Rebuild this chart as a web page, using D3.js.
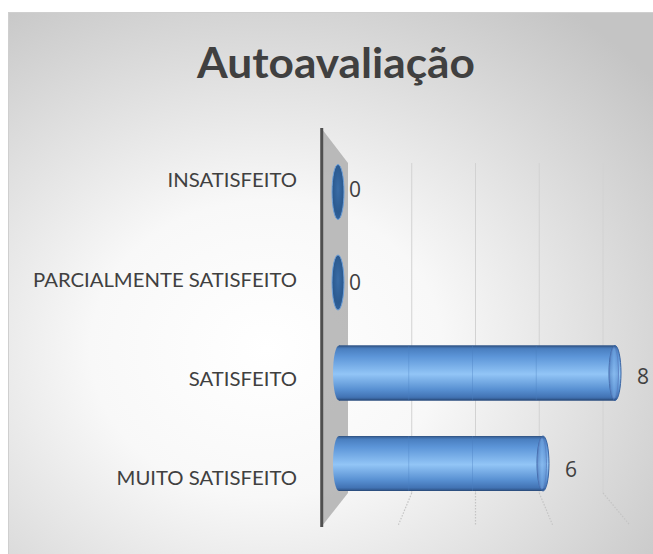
<!DOCTYPE html>
<html><head><meta charset="utf-8">
<script src="https://cdn.jsdelivr.net/npm/d3@7"></script>
<style>html,body{margin:0;padding:0;background:#fff;}svg{display:block;}</style>
</head><body>
<script>
const categories = ["INSATISFEITO", "PARCIALMENTE SATISFEITO", "SATISFEITO", "MUITO SATISFEITO"];
const values = [0, 0, 8, 6];
const gridTicks = [2, 4, 6, 8];
const title = "Autoavaliação";

const W = 653, H = 554;
const svg = d3.select("body").append("svg").attr("width", W).attr("height", H);
const defs = svg.append("defs");

const bg = defs.append("radialGradient").attr("id","bg").attr("cx","40%").attr("cy","62%").attr("r","78%");
bg.append("stop").attr("offset","0%").attr("stop-color","#ffffff");
bg.append("stop").attr("offset","35%").attr("stop-color","#f8f8f8");
bg.append("stop").attr("offset","100%").attr("stop-color","#c4c4c4");

const cyl = defs.append("linearGradient").attr("id","cyl").attr("x1",0).attr("y1",0).attr("x2",0).attr("y2",1);
[[0,"#33598c"],[0.06,"#4a7fc0"],[0.2,"#5c95d8"],[0.52,"#92c5f6"],[0.8,"#5890d2"],[0.94,"#4273b4"],[1,"#2c4f80"]]
  .forEach(([o,c])=>cyl.append("stop").attr("offset",o).attr("stop-color",c));
const cap = defs.append("linearGradient").attr("id","cap").attr("x1",0).attr("y1",0).attr("x2",1).attr("y2",0);
[[0,"#4a78b8"],[0.5,"#7fb2ea"],[1,"#5a8ccc"]].forEach(([o,c])=>cap.append("stop").attr("offset",o).attr("stop-color",c));
const zero = defs.append("radialGradient").attr("id","zero").attr("cx","50%").attr("cy","45%").attr("r","60%");
[[0,"#3a6ca6"],[0.7,"#2b5a90"],[1,"#35659e"]].forEach(([o,c])=>zero.append("stop").attr("offset",o).attr("stop-color",c));

// background box
svg.append("rect").attr("x",8.5).attr("y",12.5).attr("width",W-8).attr("height",H-12)
  .attr("fill","url(#bg)").attr("stroke","#cfcfcf").attr("stroke-width",1);

const FONT = "Lato, 'Open Sans', sans-serif";

// title
const t = svg.append("text").attr("x",336).attr("y",78).attr("text-anchor","middle")
  .attr("font-family",FONT).attr("font-weight","bold").attr("font-size",42)
  .attr("fill","#404040").text(title);
const tw = t.node().getComputedTextLength();
if (Math.abs(tw-278) > 2) t.attr("textLength",278).attr("lengthAdjust","spacingAndGlyphs");

// scales
const xGrid = d3.scaleLinear().domain([0,8]).range([348,603]);
const xFront = d3.scaleLinear().domain([0,8]).range([333,621]);
const yFront = d3.scalePoint().domain(categories).range([192,463.5]);
const yLabel = d3.scalePoint().domain(categories).range([180.5,478.5]);
const yValue = d3.scalePoint().domain(categories).range([197,477]);
const gridTop = 163, floorY = 493, floorBottom = 525;
const vanish = xGrid(4), slant = 0.21;

// gridlines
const g = svg.append("g");
gridTicks.forEach(v=>{
  const x = xGrid(v);
  g.append("line").attr("x1",x).attr("x2",x).attr("y1",gridTop).attr("y2",floorY)
    .attr("stroke","#d2d2d2").attr("stroke-width",1);
  g.append("line").attr("x1",x).attr("x2",x+(x-vanish)*slant).attr("y1",floorY).attr("y2",floorBottom)
    .attr("stroke","#c4c4c4").attr("stroke-width",1.2).attr("stroke-dasharray","1.5,1.5");
});

// back wall (side)
const wx = xGrid(0), wl = wx + (wx-vanish)*slant;
svg.append("path").attr("d",`M${wl},128 L${wx},${gridTop} L${wx},${floorY} L${wl},527 Z`)
  .attr("fill","#ababab").attr("fill-opacity",0.8);
svg.append("line").attr("x1",wl+0.5).attr("x2",wl+0.5).attr("y1",128).attr("y2",527)
  .attr("stroke","#4f4f4f").attr("stroke-width",3);

// category labels
const lab = svg.append("g").attr("font-family",FONT).attr("font-size",18.5).attr("fill","#404040");
const labs = lab.selectAll("text").data(categories).join("text")
  .attr("x",297).attr("y",d=>yLabel(d)+6.7).attr("text-anchor","end").text(d=>d);
let maxW = 0; labs.each(function(){ maxW = Math.max(maxW, this.getComputedTextLength()); });
const f = 264/maxW;
labs.each(function(){ const w=this.getComputedTextLength(); d3.select(this).attr("textLength",w*f).attr("lengthAdjust","spacingAndGlyphs"); });

// bars
const rx = 6, bh = 55;
const data = categories.map((c,i)=>({c, v: values[i]}));
const bars = svg.append("g");
data.forEach(d=>{
  const cy = yFront(d.c);
  if (d.v === 0) {
    bars.append("ellipse").attr("cx",xFront(0)+rx-1).attr("cy",cy).attr("rx",rx).attr("ry",bh/2)
      .attr("fill","url(#zero)").attr("stroke","#6d9fd8").attr("stroke-width",1);
  } else {
    const x0 = xFront(0)+rx, x1 = xFront(d.v)-rx;
    const grp = bars.append("g");
    grp.append("ellipse").attr("cx",x0).attr("cy",cy).attr("rx",rx).attr("ry",bh/2).attr("fill","url(#cyl)");
    grp.append("rect").attr("x",x0).attr("y",cy-bh/2).attr("width",x1-x0).attr("height",bh).attr("fill","url(#cyl)");
    grp.append("line").attr("x1",x0).attr("x2",x1).attr("y1",cy-bh/2+0.5).attr("y2",cy-bh/2+0.5).attr("stroke","#34598a").attr("stroke-width",1);
    grp.append("line").attr("x1",x0).attr("x2",x1).attr("y1",cy+bh/2-0.5).attr("y2",cy+bh/2-0.5).attr("stroke","#2c4f80").attr("stroke-width",1);
    gridTicks.filter(v=>v<d.v).forEach(v=>{
      grp.append("line").attr("x1",xGrid(v)-3).attr("x2",xGrid(v)-3).attr("y1",cy-bh/2).attr("y2",cy+bh/2)
        .attr("stroke","#4a7fbf").attr("stroke-opacity",0.35).attr("stroke-width",1);
    });
    grp.append("ellipse").attr("cx",x1).attr("cy",cy).attr("rx",rx).attr("ry",bh/2)
      .attr("fill","url(#cyl)").attr("stroke","#3c66a4").attr("stroke-width",1);
    grp.append("ellipse").attr("cx",x1-1).attr("cy",cy).attr("rx",rx-1.5).attr("ry",bh/2-2)
      .attr("fill","url(#cap)").attr("fill-opacity",0.55).attr("stroke","#5a7fc0").attr("stroke-width",0.8);
  }
});

// value labels
svg.append("g").attr("font-family","'Open Sans', sans-serif").attr("font-size",21).attr("fill","#404040")
  .selectAll("text").data(data).join("text")
  .attr("x",d=>xFront(d.v)+16).attr("y",d=>yValue(d.c)).text(d=>d.v);
</script>
</body></html>
